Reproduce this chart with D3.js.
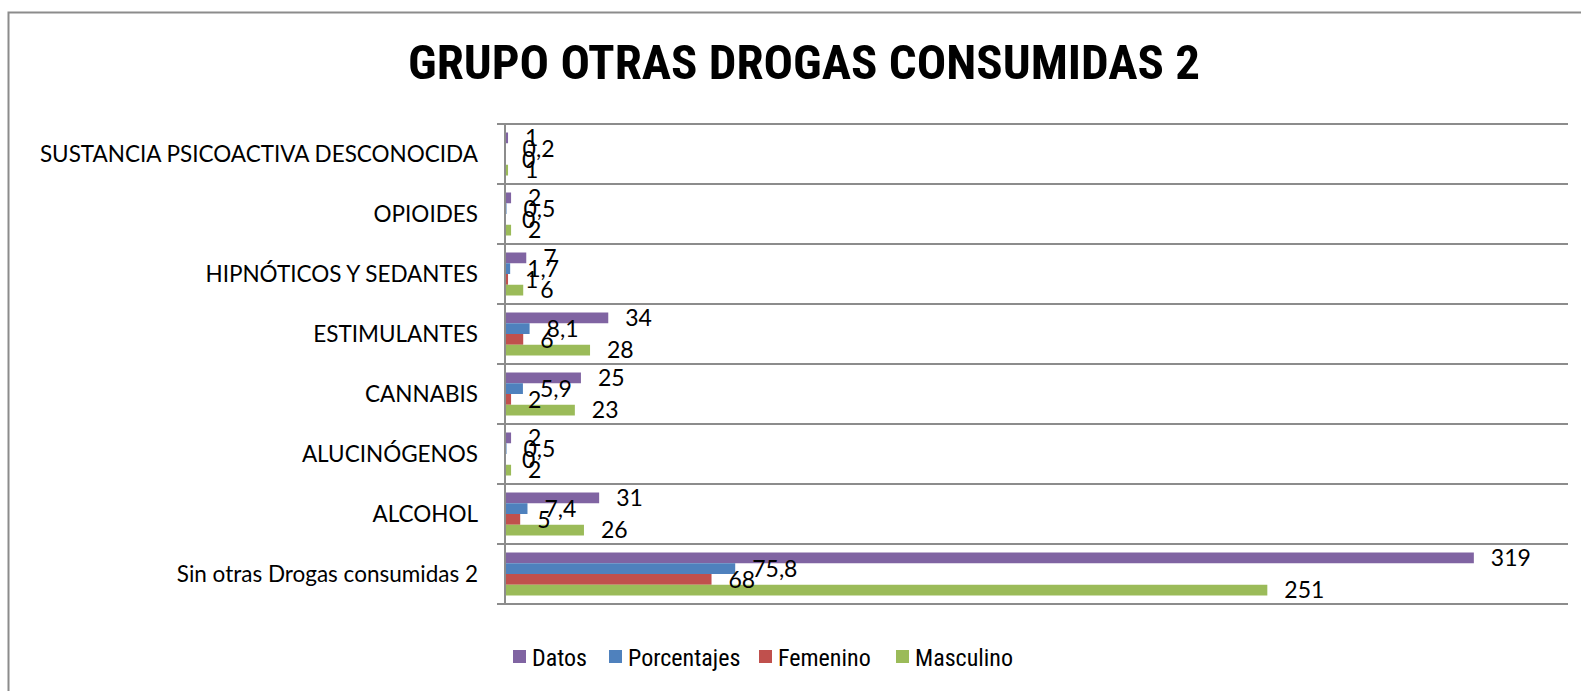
<!DOCTYPE html>
<html lang="es">
  <head>
    <meta charset="UTF-8" />
    <title>Grupo otras drogas consumidas 2</title>
    <script src="https://d3js.org/d3.v7.min.js"></script>
    <style>
      html, body { margin: 0; padding: 0; background: #fff; }
      svg text { font-family: Lato, "Open Sans", sans-serif; fill: #000; }
      svg text.narrow { font-family: "Liberation Sans Narrow", "Arial Narrow", "Roboto Condensed", sans-serif; }
    </style>
  </head>
  <body>
    <div id="chart"></div>
    <script>
      // categories from top to bottom as drawn
      const categories = [
        "SUSTANCIA PSICOACTIVA DESCONOCIDA",
        "OPIOIDES",
        "HIPNÓTICOS Y SEDANTES",
        "ESTIMULANTES",
        "CANNABIS",
        "ALUCINÓGENOS",
        "ALCOHOL",
        "Sin otras Drogas consumidas 2"
      ];
      const seriesNames = ["Datos", "Porcentajes", "Femenino", "Masculino"];
      const seriesColors = ["#8064A2", "#4F81BD", "#C0504D", "#9BBB59"];

      const datos = [1, 2, 7, 34, 25, 2, 31, 319];
      const porcentajes = [0.2, 0.5, 1.7, 8.1, 5.9, 0.5, 7.4, 75.8];
      const femenino = [0, 0, 1, 6, 2, 0, 5, 68];
      const masculino = [1, 2, 6, 28, 23, 2, 26, 251];

      const xTicks = [0, 350];

      const W = 1581, H = 691;
      const plot = { left: 505, right: 1568, top: 124, bottom: 604 };

      const svg = d3.select("#chart").append("svg")
        .attr("width", W).attr("height", H);

      // outer chart frame
      svg.append("rect")
        .attr("x", 8.5).attr("y", 12.5)
        .attr("width", W + 20).attr("height", H + 20)
        .attr("fill", "#fff").attr("stroke", "#8c8c8c").attr("stroke-width", 2);

      svg.append("text")
        .attr("class", "narrow")
        .attr("x", 804).attr("y", 79)
        .attr("text-anchor", "middle")
        .attr("font-size", 49).attr("font-weight", "bold")
        .text("GRUPO OTRAS DROGAS CONSUMIDAS 2");

      const x = d3.scaleLinear().domain(d3.extent(xTicks)).range([plot.left, plot.right]);
      const y0 = d3.scaleBand().domain(categories).range([plot.top, plot.bottom]);
      const y1 = d3.scaleBand().domain(seriesNames).range([8.5, y0.bandwidth() - 8.5]);

      // category gridlines with outward ticks
      const bounds = d3.range(categories.length + 1).map(i => plot.top + i * y0.bandwidth());
      svg.append("g").selectAll("line").data(bounds).join("line")
        .attr("x1", plot.left - 8).attr("x2", plot.right)
        .attr("y1", d => d).attr("y2", d => d)
        .attr("stroke", "#8c8c8c").attr("stroke-width", 2);

      svg.append("line")
        .attr("x1", plot.left).attr("x2", plot.left)
        .attr("y1", plot.top).attr("y2", plot.bottom)
        .attr("stroke", "#8c8c8c").attr("stroke-width", 2);

      const rows = categories.map((c, i) => ({
        cat: c,
        vals: [datos[i], porcentajes[i], femenino[i], masculino[i]]
      }));

      const fmt = v => String(v).replace(".", ",");

      const groups = svg.append("g").selectAll("g").data(rows).join("g")
        .attr("transform", d => `translate(0,${y0(d.cat)})`);

      groups.selectAll("rect")
        .data(d => d.vals.map((v, j) => ({ v, s: seriesNames[j], c: seriesColors[j] })))
        .join("rect")
        .attr("x", plot.left + 1)
        .attr("y", d => y1(d.s))
        .attr("width", d => Math.max(0, x(d.v) - plot.left - 1))
        .attr("height", y1.bandwidth())
        .attr("fill", d => d.c);

      groups.selectAll("text.val")
        .data(d => d.vals.map((v, j) => ({ v, s: seriesNames[j] })))
        .join("text")
        .attr("class", "val")
        .attr("x", d => x(d.v) + 17)
        .attr("y", d => y1(d.s) + y1.bandwidth() / 2)
        .attr("dy", "0.36em")
        .attr("font-size", 23)
        .text(d => fmt(d.v));

      // category labels
      svg.append("g").selectAll("text").data(categories).join("text")
        .attr("x", 478)
        .attr("y", d => y0(d) + y0.bandwidth() / 2)
        .attr("dy", "0.36em")
        .attr("text-anchor", "end")
        .attr("font-size", 22.5)
        .text(d => d);

      // legend
      const legendX = [513, 609, 759, 896];
      const leg = svg.append("g").selectAll("g").data(seriesNames).join("g")
        .attr("transform", (d, i) => `translate(${legendX[i]},657)`);
      leg.append("rect")
        .attr("x", 0).attr("y", -7).attr("width", 13).attr("height", 13)
        .attr("fill", (d, i) => seriesColors[i]);
      leg.append("text")
        .attr("class", "narrow")
        .attr("x", 19).attr("dy", "0.36em")
        .attr("font-size", 24)
        .text(d => d);
    </script>
  </body>
</html>
